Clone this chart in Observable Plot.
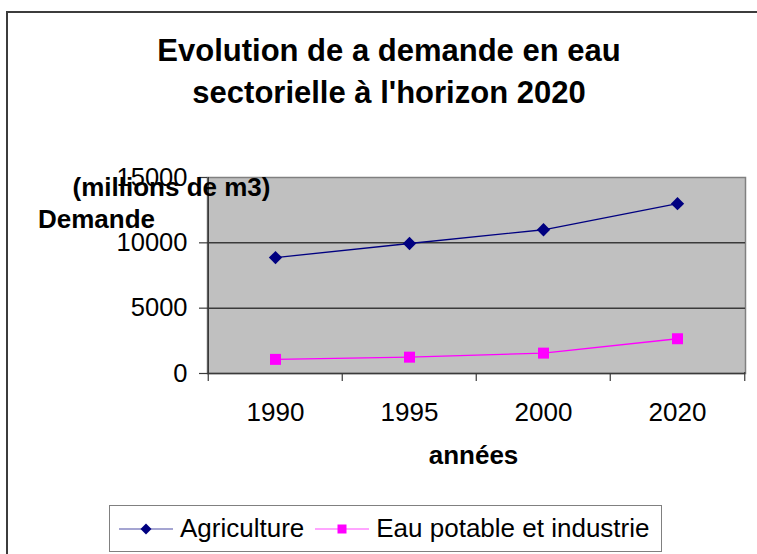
<!DOCTYPE html>
<html>
<head>
<meta charset="utf-8">
<script src="https://cdn.jsdelivr.net/npm/d3@7"></script>
<script src="https://cdn.jsdelivr.net/npm/@observablehq/plot@0.6"></script>
<style>
  html, body { margin: 0; padding: 0; background: #fff; overflow: hidden; width: 757px; height: 554px; }
  #wrap { position: relative; width: 757px; height: 554px; overflow: hidden; font-family: "Liberation Sans", Arial, sans-serif; }
  #bt { position: absolute; left: 6px; top: 11px; width: 751px; height: 2px; background: #3c3c3c; }
  #bl { position: absolute; left: 6px; top: 11px; width: 2px; height: 543px; background: #3c3c3c; }
  #title { position: absolute; left: 0; top: 30px; width: 757px; padding-left: 21px; box-sizing: border-box; text-align: center; font-weight: bold; font-size: 31px; line-height: 42px; color: #000; white-space: nowrap; overflow: hidden; }
  #chart { position: absolute; left: 0; top: 0; width: 757px; height: 554px; overflow: hidden; }
  #chart svg { display: block; }
  #cover { position: absolute; left: 747px; top: 14px; width: 10px; height: 162px; background: #fff; }
  #legend { position: absolute; left: 109px; top: 505px; width: 553px; height: 47px; box-sizing: border-box; border: 1.5px solid #808080; background: #fff; display: flex; align-items: center; padding-left: 9px; font-size: 26px; color: #000; white-space: nowrap; }
  #legend .item { display: flex; align-items: center; }
  #legend svg { display: block; }
</style>
</head>
<body>
<div id="wrap">
  <div id="chart"></div>
  <div id="cover"></div>
  <div id="bt"></div>
  <div id="bl"></div>
  <div id="title"></div>
  <div id="legend"></div>
</div>
<script>
// ---- data ----
const titleLines = ["Evolution de a demande en eau", "sectorielle à l'horizon 2020"];
const years = ["1990", "1995", "2000", "2020"];
const agriculture = [8870, 9950, 11000, 13000];
const eauPotable = [1080, 1250, 1560, 2660];
const seriesNames = ["Agriculture", "Eau potable et industrie"];
const seriesColors = ["#000080", "#FF00FF"];
const yTicks = [0, 5000, 10000, 15000];
const yLabelLines = ["(millions de m3)", "Demande"];
const xLabel = "années";

// ---- layout ----
const W = 757, H = 554;
const mL = 207, mR = 12, mT = 177, mB = 181;
const plotW = W - mL - mR, plotH = H - mT - mB;
const step = plotW / years.length;

const agriData = years.map((y, i) => ({year: y, value: agriculture[i]}));
const eauData = years.map((y, i) => ({year: y, value: eauPotable[i]}));

const chart = Plot.plot({
  width: W,
  height: H,
  marginLeft: mL,
  marginRight: mR,
  marginTop: mT,
  marginBottom: mB,
  style: {fontFamily: "Liberation Sans, Arial, sans-serif", fontSize: "26px", color: "#000", background: "transparent"},
  x: {type: "point", domain: years, padding: 0.5, label: null},
  y: {domain: [yTicks[0], yTicks[yTicks.length - 1]], label: null},
  marks: [
    Plot.frame({fill: "#C0C0C0", stroke: "#808080", strokeWidth: 1.5}),
    Plot.ruleY(yTicks.slice(1, -1), {stroke: "#3a3a3a", strokeWidth: 1.5}),
    // axis lines
    Plot.ruleY([yTicks[0]], {stroke: "#3a3a3a", strokeWidth: 1.5}),
    Plot.ruleX([years[0]], {dx: -step / 2, stroke: "#3a3a3a", strokeWidth: 1.5}),
    // x tick marks at category boundaries
    Plot.ruleX(years, {dx: -step / 2, insetTop: plotH, insetBottom: -8, stroke: "#3a3a3a", strokeWidth: 1.2}),
    Plot.ruleX([years[years.length - 1]], {dx: step / 2, insetTop: plotH - 1, insetBottom: -8, stroke: "#3a3a3a", strokeWidth: 1.2}),
    Plot.axisY({ticks: yTicks, tickFormat: d => String(d), tickSize: 8, tickPadding: 12, fontSize: 25.5, stroke: "#3a3a3a", strokeWidth: 1.2, label: null}),
    Plot.axisX({tickSize: 0, tickPadding: 29, fontSize: 26, label: null}),
    // series
    Plot.line(agriData, {x: "year", y: "value", stroke: seriesColors[0], strokeWidth: 1.3}),
    Plot.line(eauData, {x: "year", y: "value", stroke: seriesColors[1], strokeWidth: 1.3}),
    Plot.dot(agriData, {x: "year", y: "value", symbol: "diamond2", r: 6, fill: seriesColors[0], stroke: "none"}),
    Plot.dot(eauData, {x: "year", y: "value", symbol: "square", r: 6.2, fill: seriesColors[1], stroke: "none"}),
    // axis titles
    Plot.text([yLabelLines[0]], {frameAnchor: "top-left", dx: -36, dy: 18, lineAnchor: "bottom", textAnchor: "middle", fontWeight: "bold", fontSize: 26, fill: "#000"}),
    Plot.text([yLabelLines[1]], {frameAnchor: "top-left", dx: -111, dy: 50, lineAnchor: "bottom", textAnchor: "middle", fontWeight: "bold", fontSize: 26, fill: "#000"}),
    Plot.text([xLabel], {frameAnchor: "bottom", dx: -3, dy: 90, lineAnchor: "bottom", textAnchor: "middle", fontWeight: "bold", fontSize: 26, fill: "#000"})
  ]
});
document.getElementById("chart").appendChild(chart);

// title
document.getElementById("title").innerHTML = titleLines.join("<br>");

// legend
const legend = document.getElementById("legend");
const symbols = ["diamond", "square"];
seriesNames.forEach((name, i) => {
  const item = document.createElement("div");
  item.className = "item";
  item.style.marginRight = i === 0 ? "11px" : "0";
  const ns = "http://www.w3.org/2000/svg";
  const svg = document.createElementNS(ns, "svg");
  svg.setAttribute("width", 54);
  svg.setAttribute("height", 14);
  const line = document.createElementNS(ns, "line");
  line.setAttribute("x1", 0); line.setAttribute("x2", 54);
  line.setAttribute("y1", 7); line.setAttribute("y2", 7);
  line.setAttribute("stroke", seriesColors[i]);
  line.setAttribute("stroke-width", 1.2);
  line.setAttribute("stroke-opacity", 0.7);
  svg.appendChild(line);
  const m = document.createElementNS(ns, "path");
  if (symbols[i] === "diamond") m.setAttribute("d", "M27,1.5L32.5,7L27,12.5L21.5,7Z");
  else m.setAttribute("d", "M22.5,2.5H31.5V11.5H22.5Z");
  m.setAttribute("fill", seriesColors[i]);
  svg.appendChild(m);
  const label = document.createElement("span");
  label.textContent = name;
  label.style.marginLeft = "7px";
  item.appendChild(svg);
  item.appendChild(label);
  legend.appendChild(item);
});
</script>
</body>
</html>
